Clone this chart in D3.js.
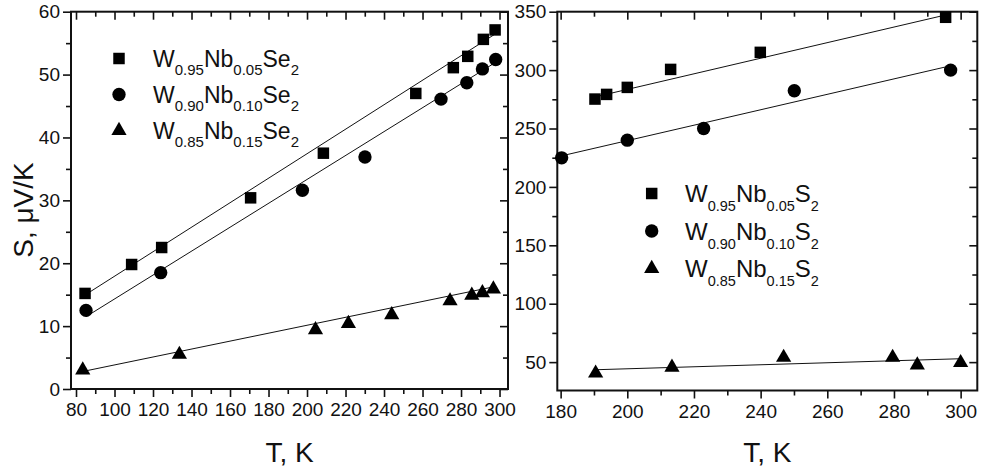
<!DOCTYPE html>
<html>
<head>
<meta charset="utf-8">
<script src="https://cdn.jsdelivr.net/npm/d3@7/dist/d3.min.js"></script>
<style>
  body { margin: 0; background: #fff; }
  svg { display: block; font-family: "Liberation Sans", Arial, sans-serif; }
  .tick text { fill: #111; }
</style>
</head>
<body>
<div id="chart"></div>
<script>
// ---- data: T in K, S in uV/K ----

// left panel, W(1-x)Nb(x)Se2
const seT95 = [84.7, 108.9, 124.5, 170.7, 208.5, 256.5, 276.0, 283.5, 291.6, 297.7]
const seS95 = [15.2, 19.8, 22.5, 30.4, 37.5, 47.0, 51.1, 52.9, 55.6, 57.1]
const seT90 = [85.2, 124.0, 197.6, 230.1, 269.6, 283.0, 291.1, 298.0]
const seS90 = [12.5, 18.5, 31.6, 36.9, 46.1, 48.7, 50.9, 52.4]
const seT85 = [83.5, 133.7, 204.4, 221.5, 244.0, 274.3, 285.6, 291.1, 296.8]
const seS85 = [3.0, 5.5, 9.4, 10.4, 11.8, 14.0, 14.9, 15.3, 15.9]

// straight fit lines, end points [T, S]
const seFit95 = [[84.7, 14.95], [298.5, 56.6]]
const seFit90 = [[85.2, 11.5], [298.5, 52.05]]
const seFit85 = [[84.7, 2.86], [297.7, 16.3]]

// right panel, W(1-x)Nb(x)S2
const sT95 = [190.3, 193.8, 200.0, 213.0, 239.9, 295.5]
const sS95 = [275.2, 279.2, 285.2, 300.6, 315.2, 345.2]
const sT90 = [180.3, 200.0, 222.9, 250.1, 297.0]
const sS90 = [224.9, 240.0, 250.0, 282.3, 300.0]
const sT85 = [190.5, 213.4, 246.9, 279.6, 287.0, 300.0]
const sS85 = [40.5, 45.5, 54.0, 54.0, 47.5, 49.5]

const sFit95 = [[190.3, 277.0], [295.8, 347.4]]
const sFit90 = [[180.3, 226.6], [297.0, 303.7]]
const sFit85 = [[190.8, 43.5], [300.0, 52.9]]

// axes
const leftXTicks = [80, 100, 120, 140, 160, 180, 200, 220, 240, 260, 280, 300]
const leftXMinor = [90, 110, 130, 150, 170, 190, 210, 230, 250, 270, 290]
const leftYTicks = [0, 10, 20, 30, 40, 50, 60]
const leftYMinor = [5, 15, 25, 35, 45, 55]
const rightXTicks = [180, 200, 220, 240, 260, 280, 300]
const rightXMinor = [190, 210, 230, 250, 270, 290]
const rightYTicks = [50, 100, 150, 200, 250, 300, 350]
const rightYMinor = [75, 125, 175, 225, 275, 325]

// legend labels: [W sub, Nb sub]
const legendSubs = [['0.95', '0.05'], ['0.90', '0.10'], ['0.85', '0.15']]
const shapes = ['square', 'circle', 'triangle']

const width = 984
const height = 474
const ink = '#111'

const svg = d3.select('#chart').append('svg')
    .attr('width', width)
    .attr('height', height)

function zip(xs, ys){
    return xs.map((x, i) => [x, ys[i]])
}

function symbolPath(shape){
    if (shape == 'square') return d3.symbol(d3.symbolSquare, 132)()
    if (shape == 'circle') return d3.symbol(d3.symbolCircle, 140)()
    return d3.symbol(d3.symbolTriangle, 100)()
}

function drawPanel(p){
    const x = d3.scaleLinear().domain(p.xDomain).range([p.left, p.right])
    const y = d3.scaleLinear().domain(p.yDomain).range([p.bottom, p.top])
    const g = svg.append('g')

    // outward ticks on bottom / left, inward mirror ticks on top / right
    const axes = [
        [d3.axisBottom(x).tickValues(p.xTicks).tickSize(8).tickPadding(6), 0, p.bottom, true],
        [d3.axisBottom(x).tickValues(p.xMinor).tickSize(5).tickFormat(''), 0, p.bottom, false],
        [d3.axisLeft(y).tickValues(p.yTicks).tickSize(8).tickPadding(3), p.left, 0, true],
        [d3.axisLeft(y).tickValues(p.yMinor).tickSize(5).tickFormat(''), p.left, 0, false],
        [d3.axisTop(x).tickValues(p.xTicks).tickSize(-8).tickFormat(''), 0, p.top, false],
        [d3.axisTop(x).tickValues(p.xMinor).tickSize(-5).tickFormat(''), 0, p.top, false],
        [d3.axisRight(y).tickValues(p.yTicks).tickSize(-8).tickFormat(''), p.right, 0, false],
        [d3.axisRight(y).tickValues(p.yMinor).tickSize(-5).tickFormat(''), p.right, 0, false]
    ]
    for (let a of axes){
        const ag = g.append('g')
            .attr('transform', 'translate(' + a[1] + ',' + a[2] + ')')
            .call(a[0])
        ag.select('.domain').remove()
        ag.selectAll('line').attr('stroke', ink).attr('stroke-width', 1.6)
        if (a[3]){
            ag.selectAll('text').style('font-size', '19px').attr('fill', ink)
        }
    }

    g.append('rect')
        .attr('x', p.left).attr('y', p.top)
        .attr('width', p.right - p.left).attr('height', p.bottom - p.top)
        .attr('fill', 'none').attr('stroke', ink).attr('stroke-width', 2)

    const line = d3.line().x(d => x(d[0])).y(d => y(d[1]))
    g.selectAll('.fit').data(p.fits).enter().append('path')
        .attr('class', 'fit')
        .attr('d', d => line(d))
        .attr('fill', 'none').attr('stroke', ink).attr('stroke-width', 1)

    p.series.forEach((pts, i) => {
        g.selectAll('.pt' + i).data(pts).enter().append('path')
            .attr('class', 'pt' + i)
            .attr('d', symbolPath(shapes[i]))
            .attr('transform', d => 'translate(' + x(d[0]) + ',' + y(d[1]) + ')')
            .attr('fill', '#000')
    })

    // axis titles
    g.append('text')
        .attr('x', (p.left + p.right) / 2).attr('y', 462)
        .attr('text-anchor', 'middle')
        .style('font-size', '28px').attr('fill', ink)
        .text('T, K')
    if (p.yTitle){
        g.append('text')
            .attr('transform', 'translate(33,210) rotate(-90)')
            .attr('text-anchor', 'middle')
            .style('font-size', '28px').attr('fill', ink)
            .text(p.yTitle)
    }

    // legend
    const L = p.legend
    legendSubs.forEach((subs, i) => {
        const by = L.y + i * L.step
        g.append('path')
            .attr('d', symbolPath(shapes[i]))
            .attr('transform', 'translate(' + L.mx + ',' + (by - 8.5) + ')')
            .attr('fill', '#000')
        const t = g.append('text')
            .attr('x', L.tx).attr('y', by)
            .style('font-size', L.font + 'px').attr('fill', ink)
        const parts = [['W', 0], [subs[0], 1], ['Nb', 0], [subs[1], 1], [L.anion, 0], ['2', 1]]
        let low = false
        for (let part of parts){
            const sub = part[1] == 1
            const dy = sub && !low ? L.shift : (!sub && low ? -L.shift : 0)
            low = sub
            t.append('tspan')
                .attr('dy', dy)
                .style('font-size', (sub ? L.subFont : L.font) + 'px')
                .text(part[0])
        }
    })
}

drawPanel({
    left: 71, right: 508, top: 11.7, bottom: 389,
    xDomain: [77.4, 304.4], yDomain: [0, 60],
    xTicks: leftXTicks, xMinor: leftXMinor, yTicks: leftYTicks, yMinor: leftYMinor,
    series: [zip(seT95, seS95), zip(seT90, seS90), zip(seT85, seS85)],
    fits: [seFit95, seFit90, seFit85],
    yTitle: 'S, \u03bcV/K',
    legend: {mx: 119, tx: 153, y: 67, step: 36, font: 23, subFont: 15, shift: 8, anion: 'Se'}
})

drawPanel({
    left: 557.3, right: 977.3, top: 11.7, bottom: 390.5,
    xDomain: [179, 305], yDomain: [25.7, 350],
    xTicks: rightXTicks, xMinor: rightXMinor, yTicks: rightYTicks, yMinor: rightYMinor,
    series: [zip(sT95, sS95), zip(sT90, sS90), zip(sT85, sS85)],
    fits: [sFit95, sFit90, sFit85],
    yTitle: null,
    legend: {mx: 651.7, tx: 685, y: 202, step: 37.5, font: 24, subFont: 14.5, shift: 9, anion: 'S'}
})
</script>
</body>
</html>
